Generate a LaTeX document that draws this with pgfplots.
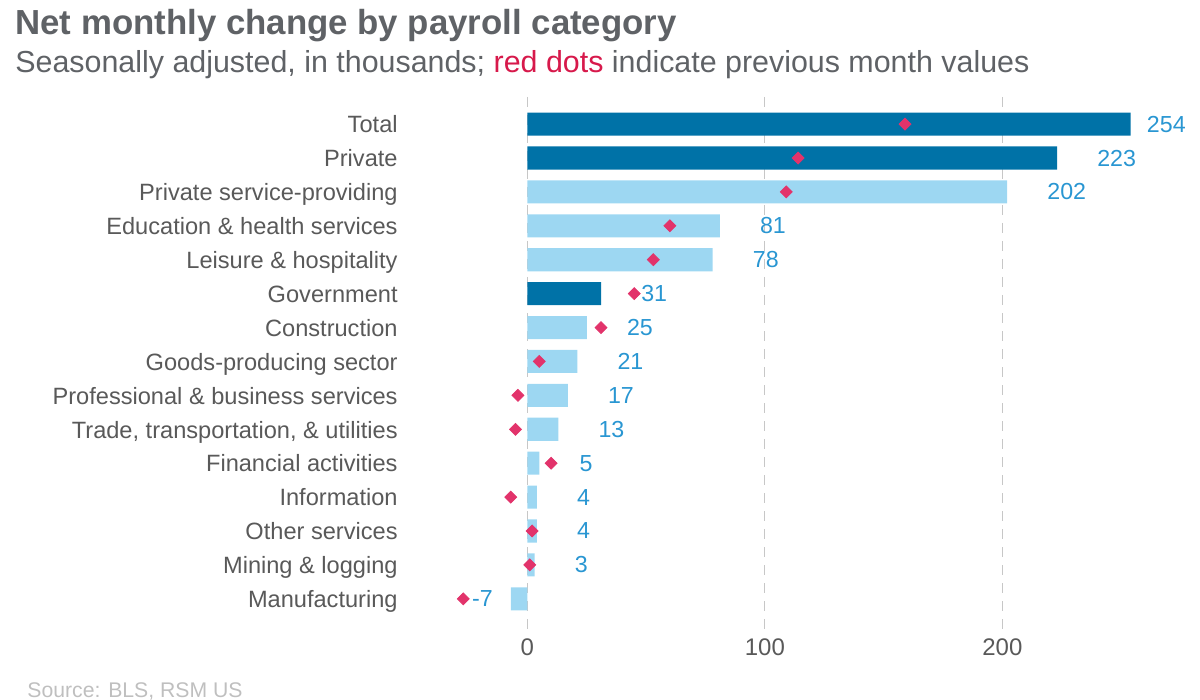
\documentclass[border=0pt]{standalone}
\usepackage{pgfplots}
\pgfplotsset{compat=1.18}
\usepackage{fontspec}
\setmainfont{Liberation Sans}
\definecolor{darkb}{HTML}{0072A7}
\definecolor{lightb}{HTML}{9DD7F2}
\definecolor{redd}{HTML}{E2336B}
\definecolor{subred}{HTML}{D7194B}
\definecolor{labelb}{HTML}{2996D2}
\definecolor{textgray}{HTML}{595959}
\definecolor{titlegray}{HTML}{5F6266}
\definecolor{srcgray}{HTML}{BFBFBF}
\begin{document}
\begin{tikzpicture}[x=1pt,y=1pt]
\useasboundingbox (-198.5pt,-34.5pt) rectangle (401.5pt,315.5pt);
\begin{axis}[at={(0,0)}, anchor=south west, scale only axis,
  width=399pt, height=267pt,
  xmin=-54.9, xmax=281.1, ymin=-0.8, ymax=14.95, y dir=reverse,
  axis line style={draw=none}, major tick length=0pt,
  xtick={0,100,200}, xmajorgrids,
  major grid style={draw=black!22, line width=0.6pt, dash pattern=on 5pt off 4pt},
  ytick={0,...,14},
  yticklabels={Total, Private, Private service-providing, Education \& health services,
    Leisure \& hospitality, Government, Construction, Goods-producing sector,
    Professional \& business services, {Trade, transportation, \& utilities},
    Financial activities, Information, Other services, Mining \& logging, Manufacturing},
  yticklabel style={anchor=base east, inner sep=0pt, xshift=0.5pt, yshift=-4.4pt,
    font=\fontsize{11.8}{14}\selectfont, text=textgray},
  xticklabel style={anchor=north, inner sep=0pt, yshift=-3.8pt,
    font=\fontsize{12}{14}\selectfont, text=textgray},
  /pgf/number format/assume math mode=true,
  clip=false]
\addplot[xbar, bar width=0.68, bar shift=0pt, draw=none, fill=lightb] coordinates {
  (202,2) (81,3) (78,4) (25,6) (21,7) (17,8) (13,9) (5,10) (4,11) (4,12) (3,13) (-7,14)};
\addplot[xbar, bar width=0.68, bar shift=0pt, draw=none, fill=darkb] coordinates {
  (254,0) (223,1) (31,5)};
\addplot[only marks, color=redd, mark=square*, mark size=2.1pt,
  mark options={rotate=45, fill=redd, draw=redd}] coordinates {
  (159,0) (114,1) (109,2) (60,3) (53,4) (45,5) (31,6) (5,7) (-4,8) (-5,9)
  (10,10) (-7,11) (2,12) (1,13) (-27,14)};
\addplot[draw=none, mark=none, nodes near coords, point meta=explicit symbolic,
  every node near coord/.append style={anchor=base west, inner sep=0pt, yshift=-4pt,
    text=labelb, font=\fontsize{11.6}{14}\selectfont}]
  table[meta=lab] {
x y lab
260.7 0 254
239.8 1 223
218.8 2 202
97.8 3 81
94.8 4 78
47.8 5 31
41.8 6 25
37.8 7 21
33.8 8 17
29.8 9 13
21.8 10 5
20.8 11 4
20.8 12 4
19.8 13 3
};
\addplot[draw=none, mark=none, nodes near coords, point meta=explicit symbolic,
  every node near coord/.append style={anchor=base east, inner sep=0pt, yshift=-4pt,
    text=labelb, font=\fontsize{11.6}{14}\selectfont}]
  table[meta=lab] {
x y lab
-14.4 14 -7
};
\end{axis}
\node[anchor=base west, inner sep=0pt, text=titlegray, font=\fontsize{17.4}{20}\bfseries]
  at (-191pt, 298pt) {Net monthly change by payroll category};
\node[anchor=base west, inner sep=0pt, text=titlegray, font=\fontsize{15.2}{18}\selectfont]
  at (-191pt, 279pt) {Seasonally adjusted, in thousands; \textcolor{subred}{red dots} indicate previous month values};
\node[anchor=base west, inner sep=0pt, text=srcgray, font=\fontsize{10.6}{12}\selectfont]
  at (-185pt, -33.5pt) {Source: BLS, RSM US};
\end{tikzpicture}
\end{document}
